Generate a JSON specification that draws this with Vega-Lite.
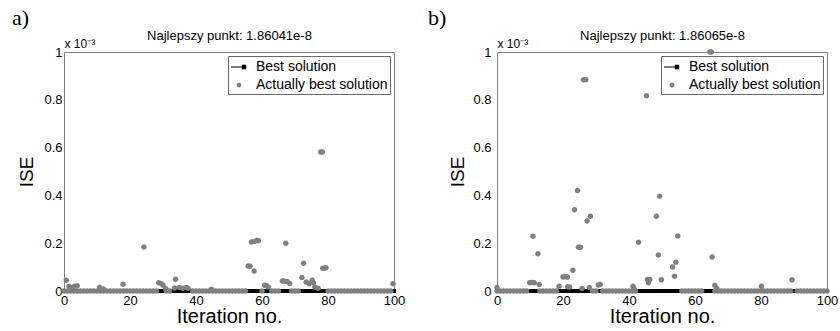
{
"$schema": "https://vega.github.io/schema/vega-lite/v6.json",
"padding": {"left": 12, "top": 6, "right": 0, "bottom": 0},
"background": "white",
"config": {
  "font": "Liberation Sans",
  "view": {"stroke": null},
  "axis": {"domain": true, "domainColor": "gray", "domainWidth": 1, "ticks": false, "tickSize": 0, "labelColor": "black", "labelFontSize": 13, "grid": false, "titleFontWeight": "normal", "labelFlush": false},
  "legend": {"orient": "top-right", "offset": 4, "padding": 2, "strokeColor": "dimgray", "strokeWidth": 1, "fillColor": "white", "labelFontSize": 14, "rowPadding": 2, "labelOffset": 8, "symbolSize": 256, "cornerRadius": 0}
},
"bounds": "flush",
"spacing": 103,
"resolve": {"scale": {"color": "independent", "shape": "independent"}, "legend": {"color": "independent", "shape": "independent"}},
"datasets": {
  "best": [{"x":0,"y":1.86e-5},{"x":1,"y":1.86e-5},{"x":2,"y":1.86e-5},{"x":3,"y":1.86e-5},{"x":4,"y":1.86e-5},{"x":5,"y":1.86e-5},{"x":6,"y":1.86e-5},{"x":7,"y":1.86e-5},{"x":8,"y":1.86e-5},{"x":9,"y":1.86e-5},{"x":10,"y":1.86e-5},{"x":11,"y":1.86e-5},{"x":12,"y":1.86e-5},{"x":13,"y":1.86e-5},{"x":14,"y":1.86e-5},{"x":15,"y":1.86e-5},{"x":16,"y":1.86e-5},{"x":17,"y":1.86e-5},{"x":18,"y":1.86e-5},{"x":19,"y":1.86e-5},{"x":20,"y":1.86e-5},{"x":21,"y":1.86e-5},{"x":22,"y":1.86e-5},{"x":23,"y":1.86e-5},{"x":24,"y":1.86e-5},{"x":25,"y":1.86e-5},{"x":26,"y":1.86e-5},{"x":27,"y":1.86e-5},{"x":28,"y":1.86e-5},{"x":29,"y":1.86e-5},{"x":30,"y":1.86e-5},{"x":31,"y":1.86e-5},{"x":32,"y":1.86e-5},{"x":33,"y":1.86e-5},{"x":34,"y":1.86e-5},{"x":35,"y":1.86e-5},{"x":36,"y":1.86e-5},{"x":37,"y":1.86e-5},{"x":38,"y":1.86e-5},{"x":39,"y":1.86e-5},{"x":40,"y":1.86e-5},{"x":41,"y":1.86e-5},{"x":42,"y":1.86e-5},{"x":43,"y":1.86e-5},{"x":44,"y":1.86e-5},{"x":45,"y":1.86e-5},{"x":46,"y":1.86e-5},{"x":47,"y":1.86e-5},{"x":48,"y":1.86e-5},{"x":49,"y":1.86e-5},{"x":50,"y":1.86e-5},{"x":51,"y":1.86e-5},{"x":52,"y":1.86e-5},{"x":53,"y":1.86e-5},{"x":54,"y":1.86e-5},{"x":55,"y":1.86e-5},{"x":56,"y":1.86e-5},{"x":57,"y":1.86e-5},{"x":58,"y":1.86e-5},{"x":59,"y":1.86e-5},{"x":60,"y":1.86e-5},{"x":61,"y":1.86e-5},{"x":62,"y":1.86e-5},{"x":63,"y":1.86e-5},{"x":64,"y":1.86e-5},{"x":65,"y":1.86e-5},{"x":66,"y":1.86e-5},{"x":67,"y":1.86e-5},{"x":68,"y":1.86e-5},{"x":69,"y":1.86e-5},{"x":70,"y":1.86e-5},{"x":71,"y":1.86e-5},{"x":72,"y":1.86e-5},{"x":73,"y":1.86e-5},{"x":74,"y":1.86e-5},{"x":75,"y":1.86e-5},{"x":76,"y":1.86e-5},{"x":77,"y":1.86e-5},{"x":78,"y":1.86e-5},{"x":79,"y":1.86e-5},{"x":80,"y":1.86e-5},{"x":81,"y":1.86e-5},{"x":82,"y":1.86e-5},{"x":83,"y":1.86e-5},{"x":84,"y":1.86e-5},{"x":85,"y":1.86e-5},{"x":86,"y":1.86e-5},{"x":87,"y":1.86e-5},{"x":88,"y":1.86e-5},{"x":89,"y":1.86e-5},{"x":90,"y":1.86e-5},{"x":91,"y":1.86e-5},{"x":92,"y":1.86e-5},{"x":93,"y":1.86e-5},{"x":94,"y":1.86e-5},{"x":95,"y":1.86e-5},{"x":96,"y":1.86e-5},{"x":97,"y":1.86e-5},{"x":98,"y":1.86e-5},{"x":99,"y":1.86e-5},{"x":100,"y":1.86e-5}],
  "aAct": [{"x":0,"y":0},{"x":1,"y":0},{"x":2,"y":0},{"x":3,"y":0},{"x":4,"y":0},{"x":5,"y":0},{"x":6,"y":0},{"x":7,"y":0},{"x":8,"y":0},{"x":9,"y":0},{"x":10,"y":0},{"x":11,"y":0},{"x":12,"y":0},{"x":13,"y":0},{"x":14,"y":0},{"x":15,"y":0},{"x":16,"y":0},{"x":17,"y":0},{"x":18,"y":0},{"x":19,"y":0},{"x":20,"y":0},{"x":21,"y":0},{"x":22,"y":0},{"x":23,"y":0},{"x":24,"y":0},{"x":25,"y":0},{"x":26,"y":0},{"x":27,"y":0},{"x":28,"y":0},{"x":31,"y":0},{"x":32,"y":0},{"x":39,"y":0},{"x":40,"y":0},{"x":41,"y":0},{"x":42,"y":0},{"x":43,"y":0},{"x":44,"y":0},{"x":45,"y":0},{"x":46,"y":0},{"x":47,"y":0},{"x":48,"y":0},{"x":49,"y":0},{"x":50,"y":0},{"x":51,"y":0},{"x":52,"y":0},{"x":53,"y":0},{"x":54,"y":0},{"x":55,"y":0},{"x":60,"y":0},{"x":63,"y":0},{"x":64,"y":0},{"x":65,"y":0},{"x":69,"y":0},{"x":70,"y":0},{"x":71,"y":0},{"x":80,"y":0},{"x":81,"y":0},{"x":82,"y":0},{"x":83,"y":0},{"x":84,"y":0},{"x":85,"y":0},{"x":86,"y":0},{"x":87,"y":0},{"x":88,"y":0},{"x":89,"y":0},{"x":90,"y":0},{"x":91,"y":0},{"x":92,"y":0},{"x":93,"y":0},{"x":94,"y":0},{"x":95,"y":0},{"x":96,"y":0},{"x":97,"y":0},{"x":98,"y":0},{"x":99,"y":0},
    {"x":0.7,"y":0.045},{"x":1.5,"y":0.02},{"x":2.5,"y":0.015},{"x":3.2,"y":0.02},{"x":4,"y":0.022},{"x":10.8,"y":0.016},{"x":12,"y":0.008},{"x":17.9,"y":0.028},{"x":24.2,"y":0.184},{"x":28.7,"y":0.034},{"x":29.5,"y":0.03},{"x":30,"y":0.024},{"x":30.8,"y":0.01},{"x":33.5,"y":0.013},{"x":33.8,"y":0.049},{"x":35,"y":0.015},{"x":36,"y":0.012},{"x":37,"y":0.015},{"x":37.6,"y":0.012},{"x":44.7,"y":0.007},{"x":55.8,"y":0.105},{"x":56.4,"y":0.104},{"x":56.8,"y":0.205},{"x":57.6,"y":0.084},{"x":57.7,"y":0.207},{"x":58.5,"y":0.212},{"x":58.9,"y":0.21},{"x":60.8,"y":0.024},{"x":61.4,"y":0.022},{"x":61.9,"y":0.017},{"x":66.2,"y":0.042},{"x":66.7,"y":0.042},{"x":67.2,"y":0.2},{"x":67.6,"y":0.04},{"x":68.4,"y":0.031},{"x":72.1,"y":0.057},{"x":72.6,"y":0.116},{"x":73.4,"y":0.038},{"x":74.3,"y":0.03},{"x":75.2,"y":0.045},{"x":75.6,"y":0.035},{"x":76,"y":0.017},{"x":77,"y":0.012},{"x":77.8,"y":0.582},{"x":78.3,"y":0.582},{"x":78.4,"y":0.095},{"x":78.9,"y":0.095},{"x":79.4,"y":0.097},{"x":99.7,"y":0.03}],
  "bAct": [{"x":0,"y":0},{"x":1,"y":0},{"x":2,"y":0},{"x":3,"y":0},{"x":4,"y":0},{"x":5,"y":0},{"x":6,"y":0},{"x":7,"y":0},{"x":8,"y":0},{"x":9,"y":0},{"x":13,"y":0},{"x":14,"y":0},{"x":15,"y":0},{"x":16,"y":0},{"x":17,"y":0},{"x":18,"y":0},{"x":29,"y":0},{"x":30,"y":0},{"x":32,"y":0},{"x":33,"y":0},{"x":34,"y":0},{"x":35,"y":0},{"x":36,"y":0},{"x":37,"y":0},{"x":38,"y":0},{"x":39,"y":0},{"x":40,"y":0},{"x":41,"y":0},{"x":42,"y":0},{"x":56,"y":0},{"x":57,"y":0},{"x":58,"y":0},{"x":59,"y":0},{"x":60,"y":0},{"x":61,"y":0},{"x":62,"y":0},{"x":66,"y":0},{"x":67,"y":0},{"x":68,"y":0},{"x":69,"y":0},{"x":70,"y":0},{"x":71,"y":0},{"x":72,"y":0},{"x":73,"y":0},{"x":74,"y":0},{"x":75,"y":0},{"x":76,"y":0},{"x":77,"y":0},{"x":78,"y":0},{"x":79,"y":0},{"x":80,"y":0},{"x":81,"y":0},{"x":82,"y":0},{"x":83,"y":0},{"x":84,"y":0},{"x":85,"y":0},{"x":86,"y":0},{"x":87,"y":0},{"x":88,"y":0},{"x":89,"y":0},{"x":91,"y":0},{"x":92,"y":0},{"x":93,"y":0},{"x":94,"y":0},{"x":95,"y":0},{"x":96,"y":0},{"x":97,"y":0},{"x":98,"y":0},{"x":99,"y":0},{"x":100,"y":0},
    {"x":0,"y":0.015},{"x":9.9,"y":0.035},{"x":10.5,"y":0.036},{"x":10.9,"y":0.229},{"x":11.3,"y":0.035},{"x":12.4,"y":0.156},{"x":12.8,"y":0.027},{"x":18.8,"y":0.02},{"x":20,"y":0.059},{"x":20.7,"y":0.06},{"x":21.3,"y":0.059},{"x":21.4,"y":0.018},{"x":22,"y":0.017},{"x":23,"y":0.087},{"x":23.5,"y":0.34},{"x":24.4,"y":0.421},{"x":24.7,"y":0.183},{"x":25.3,"y":0.183},{"x":25.8,"y":0.01},{"x":26.2,"y":0.884},{"x":26.9,"y":0.884},{"x":27.3,"y":0.293},{"x":28,"y":0.015},{"x":28.3,"y":0.313},{"x":30.7,"y":0.025},{"x":31.3,"y":0.027},{"x":41.2,"y":0.02},{"x":41.6,"y":0.008},{"x":42.9,"y":0.204},{"x":45.3,"y":0.817},{"x":45.6,"y":0.048},{"x":45.9,"y":0.035},{"x":46.3,"y":0.048},{"x":48.3,"y":0.313},{"x":48.9,"y":0.151},{"x":49.3,"y":0.396},{"x":49.8,"y":0.047},{"x":53.2,"y":0.1},{"x":53.8,"y":0.062},{"x":54.2,"y":0.12},{"x":54.8,"y":0.23},{"x":64.5,"y":1.0},{"x":65,"y":1.0},{"x":65.2,"y":0.142},{"x":66,"y":0.024},{"x":66.6,"y":0.012},{"x":80.1,"y":0.02},{"x":89.4,"y":0.047}]
},
"hconcat": [
 {
  "width": 330, "height": 239,
  "title": {"text": "a)", "anchor": "start", "frame": "group", "dx": -52, "font": "Liberation Serif", "fontSize": 22, "fontWeight": "normal", "baseline": "alphabetic", "offset": -17},
  "resolve": {"axis": {"x": "independent", "y": "independent"}},
  "layer": [
   {"data": {"name": "best"}, "mark": {"type": "line", "color": "black", "strokeWidth": 1},
    "encoding": {
     "x": {"field": "x", "type": "quantitative", "scale": {"domain": [0, 100], "nice": false, "zero": false},
           "axis": {"orient": "bottom", "values": [0, 20, 40, 60, 80, 100], "format": "d", "title": "Iteration no.", "titleFontSize": 20, "titlePadding": -1, "labelPadding": 3}},
     "y": {"field": "y", "type": "quantitative", "scale": {"domain": [0, 1], "nice": false},
           "axis": {"orient": "left", "values": [0, 0.2, 0.4, 0.6, 0.8, 1], "format": "~g", "title": "ISE", "titleFontSize": 19, "titlePadding": 7, "labelPadding": 2}}
    }},
   {"data": {"name": "best"}, "mark": {"type": "point", "shape": "square", "filled": true, "size": 16, "opacity": 1, "color": "black"},
    "encoding": {
     "x": {"field": "x", "type": "quantitative", "axis": {"orient": "top", "values": [0, 20, 40, 60, 80, 100], "labels": false, "title": "Najlepszy punkt: 1.86041e-8", "titleFontSize": 13, "titleY": -12.5, "titleBaseline": "alphabetic"}},
     "y": {"field": "y", "type": "quantitative", "axis": {"orient": "right", "values": [0, 0.2, 0.4, 0.6, 0.8, 1], "labels": false, "title": "x 10⁻³", "titleFontSize": 12, "titleAngle": 0, "titleX": -330, "titleY": -5, "titleAlign": "left", "titleBaseline": "alphabetic"}}
    }},
   {"data": {"values": []}, "mark": {"type": "point", "filled": true, "opacity": 1},
    "encoding": {
     "x": {"field": "x", "type": "quantitative", "axis": null},
     "y": {"field": "y", "type": "quantitative", "axis": null},
     "color": {"datum": "Best solution", "scale": {"domain": ["Best solution", "Actually best solution"], "range": ["black", "#808080"]}, "legend": {"title": null}},
     "shape": {"datum": "Best solution", "scale": {"domain": ["Best solution", "Actually best solution"], "range": ["M-1,-0.07H0.7V0.07H-1Z M0.35,-0.28H0.9V0.28H0.35Z", "M0.3,0A0.3,0.3,0,1,1,-0.3,0A0.3,0.3,0,1,1,0.3,0Z"]}, "legend": {"title": null}}
    }},
   {"data": {"name": "aAct"}, "mark": {"type": "point", "filled": true, "size": 336, "opacity": 1},
    "encoding": {
     "x": {"field": "x", "type": "quantitative", "axis": null},
     "y": {"field": "y", "type": "quantitative", "axis": null},
     "color": {"datum": "Actually best solution"},
     "shape": {"datum": "Actually best solution"}
    }}
  ]
 },
 {
  "width": 330, "height": 239,
  "title": {"text": "b)", "anchor": "start", "frame": "group", "dx": -69, "font": "Liberation Serif", "fontSize": 22, "fontWeight": "normal", "baseline": "alphabetic", "offset": -17},
  "resolve": {"axis": {"x": "independent", "y": "independent"}},
  "layer": [
   {"data": {"name": "best"}, "mark": {"type": "line", "color": "black", "strokeWidth": 1},
    "encoding": {
     "x": {"field": "x", "type": "quantitative", "scale": {"domain": [0, 100], "nice": false, "zero": false},
           "axis": {"orient": "bottom", "values": [0, 20, 40, 60, 80, 100], "format": "d", "title": "Iteration no.", "titleFontSize": 20, "titlePadding": -1, "labelPadding": 3}},
     "y": {"field": "y", "type": "quantitative", "scale": {"domain": [0, 1], "nice": false},
           "axis": {"orient": "left", "values": [0, 0.2, 0.4, 0.6, 0.8, 1], "format": "~g", "title": "ISE", "titleFontSize": 19, "titlePadding": 5, "labelPadding": 6}}
    }},
   {"data": {"name": "best"}, "mark": {"type": "point", "shape": "square", "filled": true, "size": 16, "opacity": 1, "color": "black"},
    "encoding": {
     "x": {"field": "x", "type": "quantitative", "axis": {"orient": "top", "values": [0, 20, 40, 60, 80, 100], "labels": false, "title": "Najlepszy punkt: 1.86065e-8", "titleFontSize": 13, "titleY": -12.5, "titleBaseline": "alphabetic"}},
     "y": {"field": "y", "type": "quantitative", "axis": {"orient": "right", "values": [0, 0.2, 0.4, 0.6, 0.8, 1], "labels": false, "title": "x 10⁻³", "titleFontSize": 12, "titleAngle": 0, "titleX": -330, "titleY": -5, "titleAlign": "left", "titleBaseline": "alphabetic"}}
    }},
   {"data": {"values": []}, "mark": {"type": "point", "filled": true, "opacity": 1},
    "encoding": {
     "x": {"field": "x", "type": "quantitative", "axis": null},
     "y": {"field": "y", "type": "quantitative", "axis": null},
     "color": {"datum": "Best solution", "scale": {"domain": ["Best solution", "Actually best solution"], "range": ["black", "#808080"]}, "legend": {"title": null}},
     "shape": {"datum": "Best solution", "scale": {"domain": ["Best solution", "Actually best solution"], "range": ["M-1,-0.07H0.7V0.07H-1Z M0.35,-0.28H0.9V0.28H0.35Z", "M0.3,0A0.3,0.3,0,1,1,-0.3,0A0.3,0.3,0,1,1,0.3,0Z"]}, "legend": {"title": null}}
    }},
   {"data": {"name": "bAct"}, "mark": {"type": "point", "filled": true, "size": 336, "opacity": 1},
    "encoding": {
     "x": {"field": "x", "type": "quantitative", "axis": null},
     "y": {"field": "y", "type": "quantitative", "axis": null},
     "color": {"datum": "Actually best solution"},
     "shape": {"datum": "Actually best solution"}
    }}
  ]
 }
]
}
